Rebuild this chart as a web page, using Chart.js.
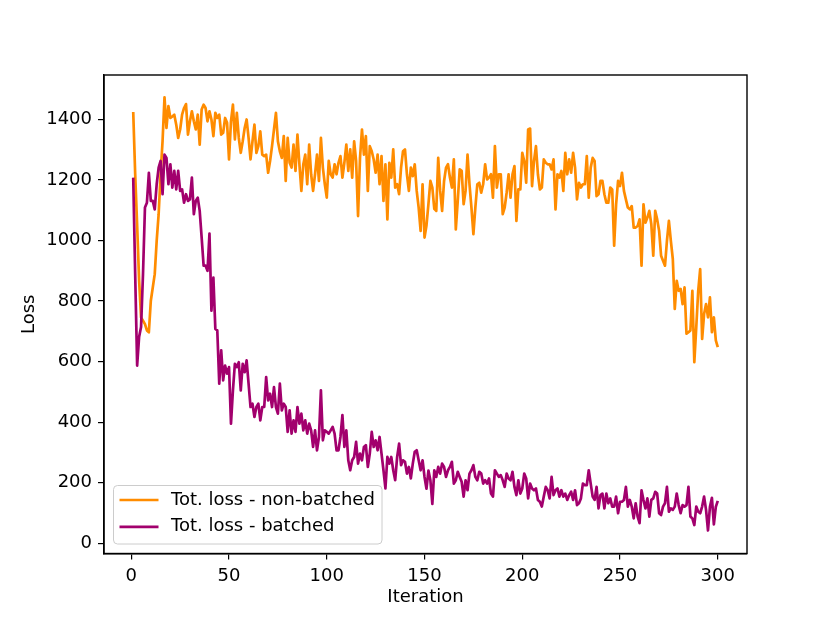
<!DOCTYPE html>
<html>
<head>
<meta charset="utf-8">
<title>Loss per iteration</title>
<script src="https://cdn.jsdelivr.net/npm/chart.js@4.4.1/dist/chart.umd.min.js"></script>
<style>
  html, body { margin: 0; padding: 0; background: #fff; }
  canvas { display: block; }
</style>
</head>
<body>
<canvas id="lossChart" width="830" height="622"></canvas>
<script>
// Iterations 1..300 on the x axis
const iterations = Array.from({ length: 300 }, (_, i) => i + 1);

const xTicks = [0, 50, 100, 150, 200, 250, 300];
const yTicks = [0, 200, 400, 600, 800, 1000, 1200, 1400];

// Tot. loss - non-batched
const lossNonBatched = [
  1425, 1220, 1050, 870, 746, 735, 724, 703, 697, 801,
  845, 889, 999, 1087, 1219, 1328, 1473, 1372, 1444, 1405,
  1410, 1416, 1383, 1339, 1367, 1416, 1438, 1451, 1350, 1394,
  1427, 1394, 1367, 1416, 1317, 1433, 1449, 1438, 1394, 1427,
  1400, 1345, 1422, 1405, 1416, 1350, 1356, 1405, 1389, 1268,
  1394, 1449, 1334, 1422, 1339, 1290, 1328, 1372, 1400, 1339,
  1268, 1328, 1383, 1290, 1312, 1361, 1284, 1279, 1284, 1224,
  1263, 1312, 1367, 1422, 1328, 1295, 1273, 1345, 1197, 1339,
  1257, 1241, 1317, 1230, 1350, 1252, 1164, 1252, 1284, 1186,
  1317, 1219, 1164, 1219, 1284, 1197, 1339, 1241, 1186, 1142,
  1263, 1219, 1208, 1252, 1219, 1257, 1279, 1208, 1257, 1317,
  1230, 1301, 1208, 1328, 1263, 1081, 1273, 1367, 1284, 1345,
  1164, 1312, 1295, 1268, 1224, 1284, 1186, 1279, 1131, 1252,
  1070, 1257, 1208, 1301, 1175, 1186, 1153, 1241, 1295, 1301,
  1219, 1164, 1241, 1213, 1252, 1164, 1109, 1032, 1186, 1010,
  1050, 1120, 1197, 1175, 1105, 1098, 1273, 1164, 1098, 1197,
  1241, 1252, 1208, 1175, 1268, 1037, 1131, 1235, 1230, 1120,
  1164, 1284, 1186, 1109, 1021, 1109, 1186, 1191, 1158, 1186,
  1252, 1202, 1208, 1219, 1142, 1312, 1175, 1219, 1219, 1087,
  1109, 1158, 1219, 1142, 1219, 1246, 1065, 1169, 1169, 1290,
  1263, 1191, 1367, 1370, 1180, 1263, 1312, 1219, 1169, 1175,
  1268, 1257, 1252, 1252, 1235, 1268, 1103, 1219, 1208, 1230,
  1164, 1290, 1219, 1268, 1224, 1290, 1241, 1136, 1191, 1175,
  1186, 1186, 1279, 1142, 1241, 1273, 1263, 1147, 1153, 1197,
  1197, 1153, 1125, 1125, 1175, 1169, 983, 1120, 1197, 1180,
  1224, 1164, 1136, 1109, 1103, 1114, 1043, 1043, 1048, 1070,
  917, 1120, 1059, 1076, 1098, 1054, 950, 1098, 1070, 1032,
  950, 933, 917, 999, 1065, 999, 939, 774, 867, 834,
  840, 790, 845, 692, 697, 703, 834, 598, 714, 834,
  906, 675, 757, 790, 746, 812, 697, 746, 670, 648
];

// Tot. loss - batched
const lossBatched = [
  1208, 889, 587, 681, 714, 889, 1109, 1125, 1224, 1131,
  1131, 1103, 1186, 1241, 1263, 1153, 1284, 1273, 1186, 1252,
  1175, 1230, 1169, 1230, 1164, 1169, 1125, 1153, 1131, 1136,
  1208, 1087, 1131, 1142, 1098, 1010, 917, 917, 900, 1023,
  768, 878, 708, 703, 527, 637, 538, 587, 560, 582,
  395, 505, 593, 582, 598, 505, 593, 565, 604, 527,
  450, 461, 417, 450, 461, 406, 450, 450, 549, 472,
  494, 450, 516, 450, 428, 527, 439, 461, 450, 368,
  439, 362, 406, 368, 450, 395, 428, 373, 406, 362,
  395, 373, 318, 373, 307, 351, 505, 340, 373, 368,
  362, 373, 384, 362, 307, 307, 351, 423, 318, 373,
  274, 241, 274, 285, 335, 263, 296, 274, 318, 324,
  252, 296, 368, 318, 340, 307, 351, 296, 241, 181,
  285, 263, 285, 241, 208, 285, 329, 258, 274, 269,
  230, 252, 214, 263, 302, 307, 274, 241, 274, 219,
  180, 240, 208, 130, 241, 219, 252, 230, 263, 252,
  219, 241, 252, 269, 197, 208, 236, 219, 203, 154,
  208, 175, 230, 241, 258, 219, 208, 236, 230, 197,
  208, 197, 214, 164, 154, 241, 230, 219, 225, 208,
  186, 230, 214, 208, 236, 186, 159, 208, 164, 181,
  230, 214, 148, 197, 181, 175, 181, 143, 137, 121,
  154, 186, 175, 148, 219, 159, 175, 181, 154, 175,
  154, 164, 143, 159, 170, 143, 175, 126, 132, 148,
  197, 192, 192, 241, 197, 154, 143, 186, 115, 159,
  164, 115, 164, 132, 148, 121, 121, 154, 99, 137,
  137, 143, 186, 121, 143, 121, 82, 132, 88, 66,
  175, 143, 115, 148, 88, 143, 148, 170, 164, 99,
  93, 121, 132, 186, 104, 115, 110, 121, 164, 126,
  99, 126, 121, 126, 186, 88, 82, 60, 121, 104,
  99, 121, 154, 110, 42, 120, 150, 62, 120, 140
];

const FONT = '"DejaVu Sans", "Liberation Sans", sans-serif';

// Full box round the plot area (matplotlib spines)
const frameBox = {
  id: 'frameBox',
  afterDatasetsDraw(chart) {
    const { ctx, chartArea: a } = chart;
    ctx.save();
    ctx.strokeStyle = '#000';
    ctx.lineWidth = 1.4;
    ctx.strokeRect(a.left, a.top, a.right - a.left, a.bottom - a.top);
    ctx.restore();
  }
};

// Legend box in the lower left corner of the plot
const cornerLegend = {
  id: 'cornerLegend',
  afterDraw(chart) {
    const { ctx, chartArea: a } = chart;
    const sets = chart.data.datasets;
    const x = a.left + 9.5, w = 268.5, h = 58.5;
    const y = a.bottom - 9.5 - h;
    ctx.save();
    ctx.beginPath();
    ctx.roundRect(x, y, w, h, 4);
    ctx.fillStyle = 'rgba(255,255,255,0.8)';
    ctx.fill();
    ctx.strokeStyle = '#cccccc';
    ctx.lineWidth = 1;
    ctx.stroke();
    ctx.font = '18px ' + FONT;
    ctx.textBaseline = 'middle';
    sets.forEach((ds, i) => {
      const ly = y + 14.5 + i * 26.8;
      ctx.beginPath();
      ctx.moveTo(x + 6, ly);
      ctx.lineTo(x + 45, ly);
      ctx.strokeStyle = ds.borderColor;
      ctx.lineWidth = 2.7;
      ctx.stroke();
      ctx.fillStyle = '#000';
      ctx.fillText(ds.label, x + 57.5, ly);
    });
    ctx.restore();
  }
};

const ctx = document.getElementById('lossChart');

new Chart(ctx, {
  type: 'line',
  data: {
    datasets: [
      {
        label: 'Tot. loss - non-batched',
        data: iterations.map((it, i) => ({ x: it, y: lossNonBatched[i] })),
        borderColor: '#ff8c00',
        borderWidth: 2.7,
        pointRadius: 0,
        tension: 0,
        borderJoinStyle: 'round',
        order: 1
      },
      {
        label: 'Tot. loss - batched',
        data: iterations.map((it, i) => ({ x: it, y: lossBatched[i] })),
        borderColor: '#a2006d',
        borderWidth: 2.7,
        pointRadius: 0,
        tension: 0,
        borderJoinStyle: 'round',
        order: 0
      }
    ]
  },
  options: {
    responsive: false,
    animation: false,
    devicePixelRatio: 1,
    layout: {
      padding: { left: 0, top: 75, right: 83, bottom: 0 }
    },
    plugins: {
      legend: { display: false },
      tooltip: { enabled: false }
    },
    scales: {
      x: {
        type: 'linear',
        min: -13.95,
        max: 314.95,
        afterFit(scale) { scale.height = 68.5; },
        afterBuildTicks(scale) { scale.ticks = xTicks.map(v => ({ value: v })); },
        grid: { drawOnChartArea: false, drawTicks: true, tickLength: 6, color: '#000', lineWidth: 1.2 },
        border: { display: true, color: '#000', width: 1.4 },
        ticks: {
          padding: 6,
          color: '#000',
          maxRotation: 0,
          font: { family: FONT, size: 18 },
          callback: v => String(v)
        },
        title: {
          display: true,
          text: 'Iteration',
          color: '#000',
          font: { family: FONT, size: 18 },
          padding: { top: 0, bottom: 13.5 }
        }
      },
      y: {
        type: 'linear',
        min: -34,
        max: 1547,
        afterFit(scale) { scale.width = 104; },
        afterBuildTicks(scale) { scale.ticks = yTicks.map(v => ({ value: v })); },
        grid: { drawOnChartArea: false, drawTicks: true, tickLength: 6, color: '#000', lineWidth: 1.2 },
        border: { display: true, color: '#000', width: 1.4 },
        ticks: {
          padding: 6,
          color: '#000',
          font: { family: FONT, size: 18 },
          callback: v => String(v)
        },
        title: {
          display: true,
          text: 'Loss',
          color: '#000',
          font: { family: FONT, size: 18 },
          padding: { top: 19, bottom: 0 }
        }
      }
    }
  },
  plugins: [frameBox, cornerLegend]
});
</script>
</body>
</html>
